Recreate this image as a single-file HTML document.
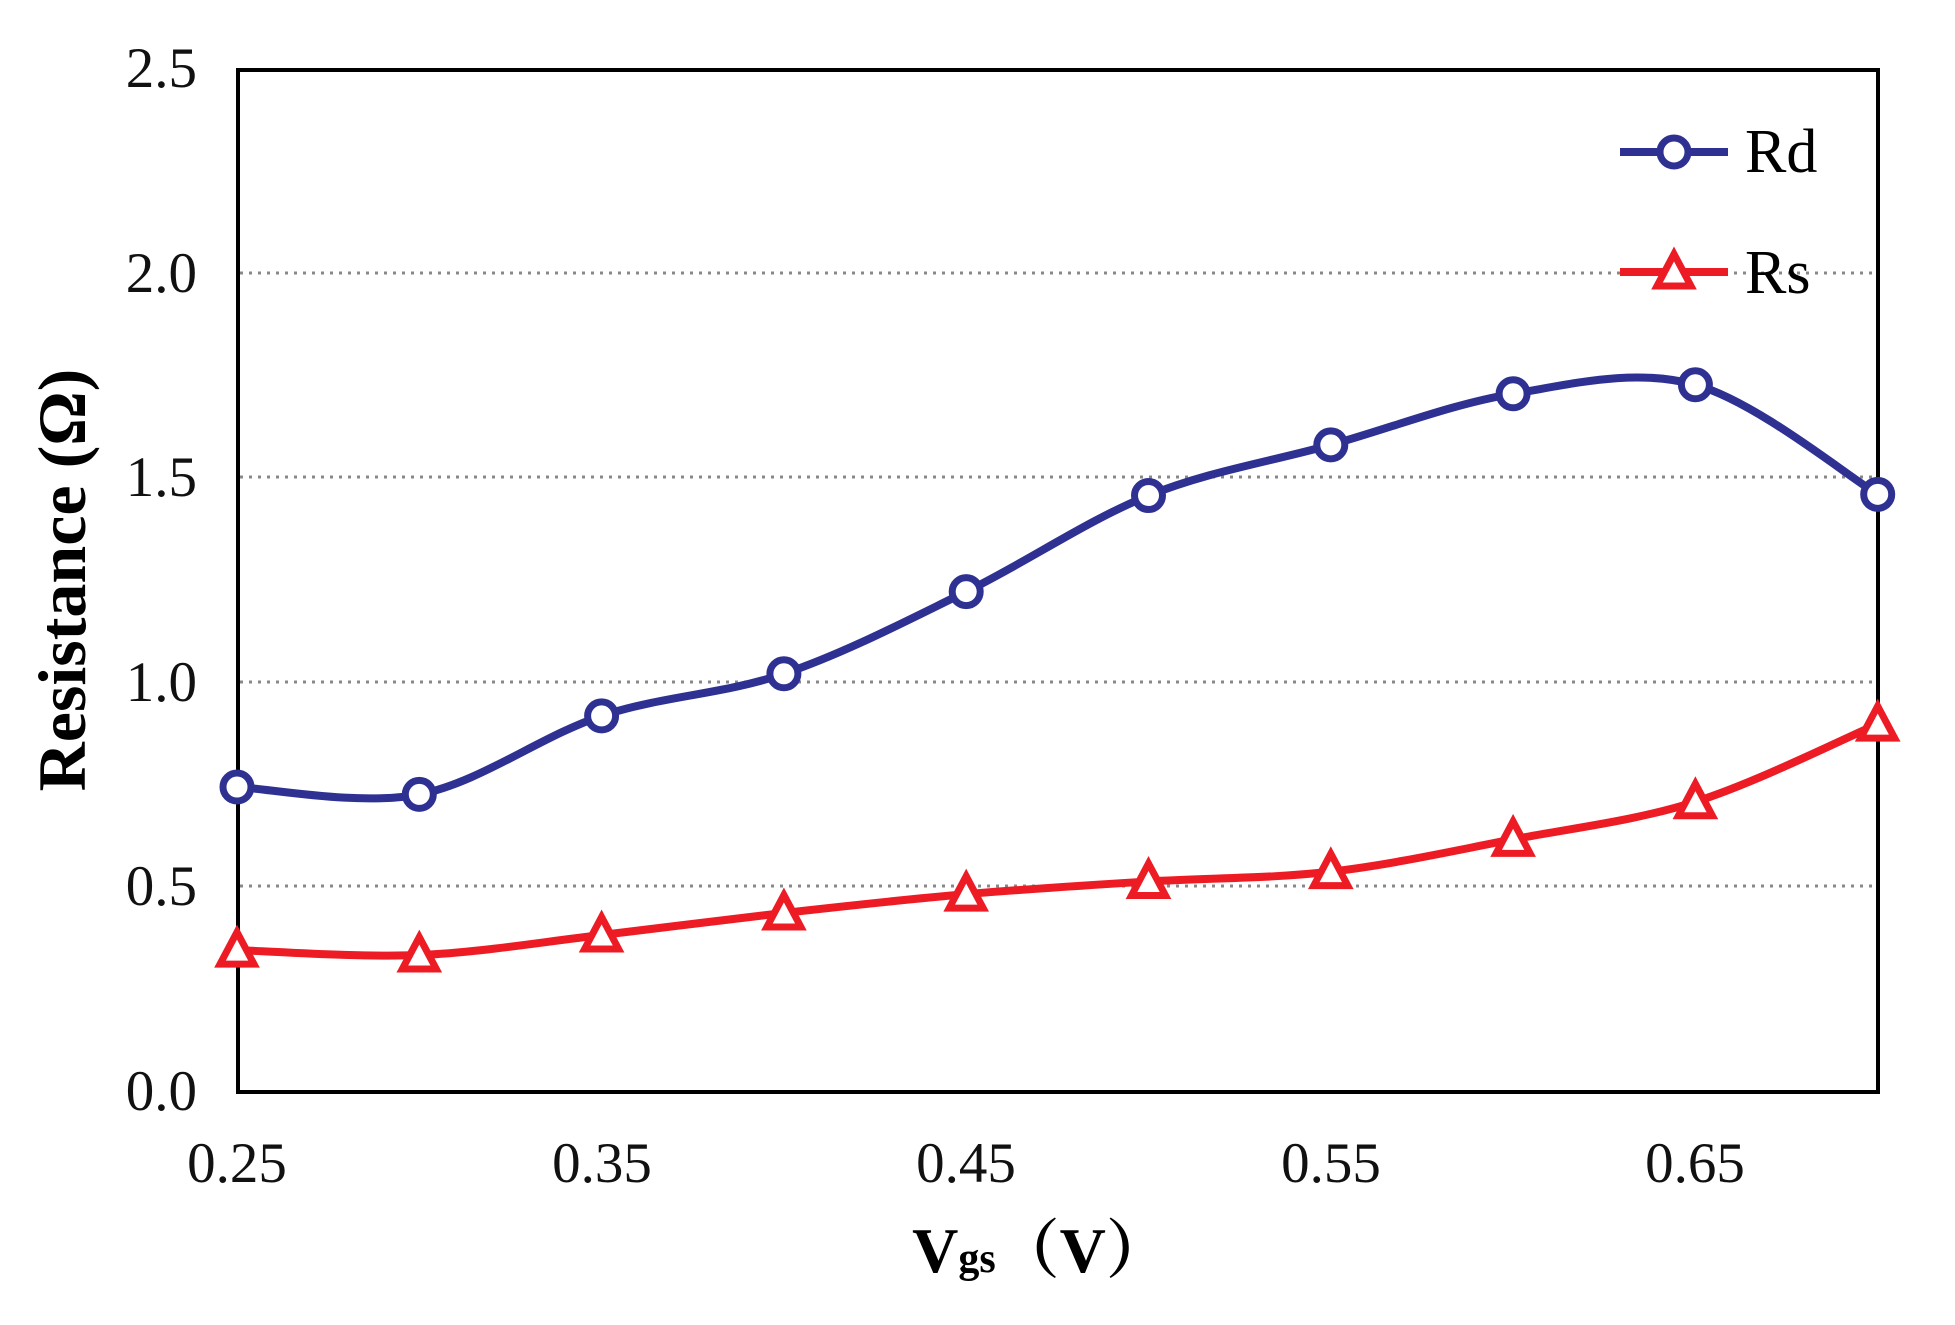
<!DOCTYPE html>
<html><head><meta charset="utf-8"><style>html,body{margin:0;padding:0;background:#fff}svg{display:block}</style></head>
<body>
<svg id="s" width="1955" height="1325" viewBox="0 0 1955 1325" xmlns="http://www.w3.org/2000/svg" font-family="'Liberation Serif', serif">
<g stroke="#888" stroke-width="3" stroke-dasharray="3,6">
<line x1="240" y1="273" x2="1876" y2="273"/>
<line x1="240" y1="477" x2="1876" y2="477"/>
<line x1="240" y1="682" x2="1876" y2="682"/>
<line x1="240" y1="886" x2="1876" y2="886"/>
</g>
<rect x="238" y="70" width="1640" height="1022" fill="none" stroke="#000" stroke-width="4"/>
<g font-size="57" text-anchor="end" fill="#111">
<text x="197" y="87">2.5</text>
<text x="197" y="292">2.0</text>
<text x="197" y="496">1.5</text>
<text x="197" y="701">1.0</text>
<text x="197" y="905">0.5</text>
<text x="197" y="1110">0.0</text>
</g>
<g font-size="57" text-anchor="middle" fill="#111">
<text x="237" y="1182">0.25</text>
<text x="602" y="1182">0.35</text>
<text x="966" y="1182">0.45</text>
<text x="1331" y="1182">0.55</text>
<text x="1695" y="1182">0.65</text>
</g>
<text transform="translate(85,580) rotate(-90)" font-size="68" font-weight="bold" text-anchor="middle">Resistance (Ω)</text>
<text x="1041" y="1272" font-size="64" font-weight="bold" text-anchor="middle">V<tspan font-size="42">gs</tspan><tspan font-family="'Noto Serif CJK SC', serif">（</tspan>V<tspan font-family="'Noto Serif CJK SC', serif">）</tspan></text>
<g id="series"></g>
<line x1="1620" y1="152" x2="1728" y2="152" stroke="#2E3192" stroke-width="8"/>
<circle cx="1674" cy="152" r="14" fill="#fff" stroke="#2E3192" stroke-width="7"/>
<text x="1745" y="172" font-size="62">Rd</text>
<line x1="1620" y1="272" x2="1728" y2="272" stroke="#ED1C24" stroke-width="8"/>
<polygon points="1674,254 1691,286 1657,286" fill="#fff" stroke="#ED1C24" stroke-width="7"/>
<text x="1745" y="293" font-size="62">Rs</text>
</svg>
<script>
var rd=[0.746,0.728,0.92,1.023,1.224,1.459,1.583,1.708,1.73,1.462];
var rs=[0.347,0.335,0.384,0.438,0.484,0.515,0.539,0.618,0.71,0.90];
function pts(a){return a.map(function(v,i){return [237+i*182.3,1092-v*408.8];});}
function path(p){var d="M"+p[0][0]+","+p[0][1];for(var i=0;i<p.length-1;i++){var p0=p[i-1]||p[i],p1=p[i],p2=p[i+1],p3=p[i+2]||p[i+1];var t=6;d+=" C"+(p1[0]+(p2[0]-p0[0])/t)+","+(p1[1]+(p2[1]-p0[1])/t)+" "+(p2[0]-(p3[0]-p1[0])/t)+","+(p2[1]-(p3[1]-p1[1])/t)+" "+p2[0]+","+p2[1];}return d;}
var g=document.getElementById("series"),h="";
var a=pts(rd),b=pts(rs);
h+='<path d="'+path(a)+'" fill="none" stroke="#2E3192" stroke-width="8"/>';
h+='<path d="'+path(b)+'" fill="none" stroke="#ED1C24" stroke-width="8"/>';
a.forEach(function(p){h+='<circle cx="'+p[0]+'" cy="'+p[1]+'" r="14" fill="#fff" stroke="#2E3192" stroke-width="7"/>';});
b.forEach(function(p){h+='<polygon points="'+p[0]+','+(p[1]-18)+' '+(p[0]+17)+','+(p[1]+14)+' '+(p[0]-17)+','+(p[1]+14)+'" fill="#fff" stroke="#ED1C24" stroke-width="7"/>';});
g.innerHTML=h;
</script>
</body></html>
